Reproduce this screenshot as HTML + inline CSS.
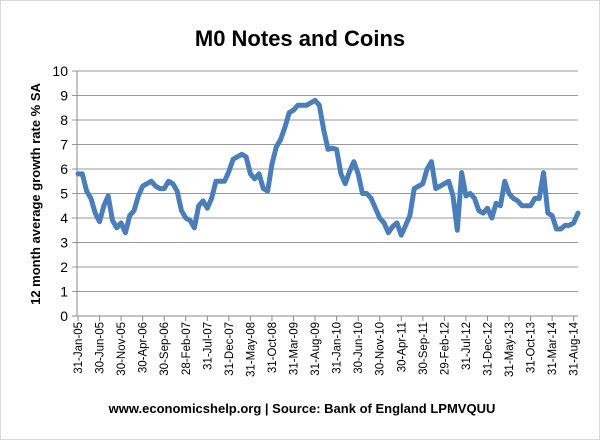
<!DOCTYPE html>
<html><head><meta charset="utf-8"><style>
body{margin:0;background:#fff}
svg{display:block;font-family:"Liberation Sans",sans-serif}
</style></head><body>
<svg id="chart" width="600" height="440">
<rect x="0.5" y="0.5" width="599" height="439" fill="#fff" stroke="#d9d9d9"/>
<text x="300" y="46" text-anchor="middle" font-size="22" font-weight="bold">M0 Notes and Coins</text>
<text transform="translate(40,194) rotate(-90)" text-anchor="middle" font-size="13" font-weight="bold">12 month average growth rate % SA</text>
<text x="302" y="413" text-anchor="middle" font-size="13" font-weight="bold">www.economicshelp.org | Source: Bank of England LPMVQUU</text>
<g id="grid"></g><g id="axes"></g><g id="series"></g>
</svg>
<script>
const values=[5.8,5.8,5.1,4.8,4.2,3.85,4.5,4.9,3.9,3.6,3.8,3.4,4.1,4.3,4.9,5.3,5.4,5.5,5.3,5.2,5.2,5.5,5.4,5.1,4.3,4.0,3.9,3.6,4.5,4.7,4.4,4.8,5.5,5.5,5.5,5.9,6.4,6.5,6.6,6.5,5.8,5.6,5.8,5.2,5.1,6.2,6.9,7.2,7.7,8.3,8.4,8.6,8.6,8.6,8.7,8.8,8.6,7.6,6.8,6.85,6.8,5.8,5.4,5.9,6.3,5.8,5.0,5.0,4.8,4.4,4.0,3.8,3.4,3.65,3.8,3.3,3.7,4.1,5.2,5.3,5.4,6.0,6.3,5.2,5.3,5.4,5.5,4.9,3.5,5.85,4.9,5.0,4.8,4.3,4.2,4.4,4.0,4.6,4.5,5.5,5.0,4.8,4.7,4.5,4.5,4.5,4.8,4.8,5.85,4.2,4.1,3.55,3.55,3.7,3.7,3.8,4.2];
const tickLabels=["31-Jan-05","30-Jun-05","30-Nov-05","30-Apr-06","30-Sep-06","28-Feb-07","31-Jul-07","31-Dec-07","31-May-08","31-Oct-08","31-Mar-09","31-Aug-09","31-Jan-10","30-Jun-10","30-Nov-10","30-Apr-11","30-Sep-11","29-Feb-12","31-Jul-12","31-Dec-12","31-May-13","31-Oct-13","31-Mar-14","31-Aug-14"];
const yTicks=[0,1,2,3,4,5,6,7,8,9,10];
const NS="http://www.w3.org/2000/svg";
const L=77,R=578,T=71,B=316;
const x=i=>78+i*(500/(values.length-1));
const y=v=>B-(v/10)*(B-T);
function mk(tag,attrs,parent){const e=document.createElementNS(NS,tag);for(const k in attrs)e.setAttribute(k,attrs[k]);parent.appendChild(e);return e;}
const grid=document.getElementById('grid'),axes=document.getElementById('axes'),series=document.getElementById('series');
yTicks.forEach(t=>{
 const g=mk('line',{x1:L-5,x2:R,y1:y(t),y2:y(t),stroke:t===0?'#888':'#999','stroke-width':1},grid);
 
 
 const tx=mk('text',{x:L-9,y:y(t)+5,'text-anchor':'end','font-size':14},axes);
 tx.textContent=t;
 
 
});
const ax=mk('line',{x1:L,x2:L,y1:T,y2:B,stroke:'#888'},axes);


tickLabels.forEach((lab,k)=>{
 const xx=x(k*5);
 const tk=mk('line',{x1:xx,x2:xx,y1:B,y2:B+5,stroke:'#888'},axes);
 
 
 const tx=mk('text',{transform:`translate(${xx+4},${B+6}) rotate(-90)`,'text-anchor':'end','font-size':11.5},axes);
 tx.textContent=lab;
 
 
});
const p=mk('polyline',{points:values.map((v,i)=>x(i)+','+y(v)).join(' '),fill:'none',stroke:'#4a7ebb','stroke-width':5,'stroke-linejoin':'round','stroke-linecap':'round'},series);


</script>
</body></html>
